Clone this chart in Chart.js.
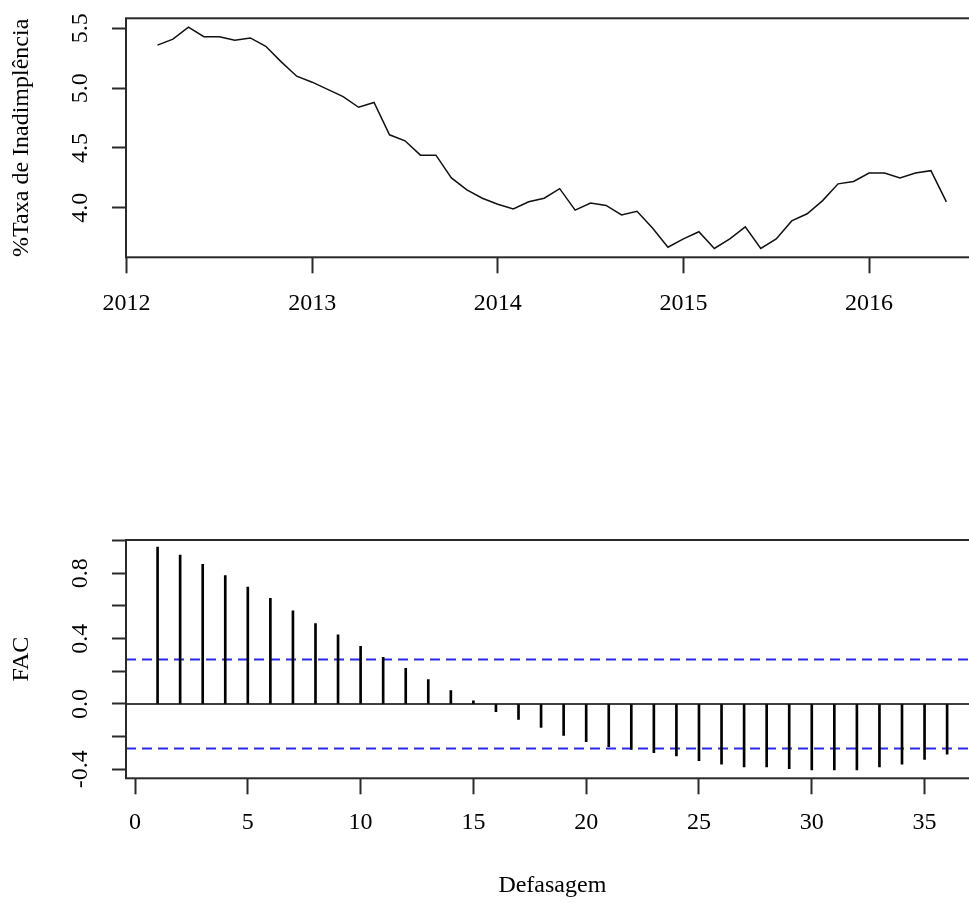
<!DOCTYPE html>
<html>
<head>
<meta charset="utf-8">
<script src="https://cdn.jsdelivr.net/npm/chart.js@4.4.1/dist/chart.umd.min.js"></script>
<style>
  html, body { margin: 0; padding: 0; background: #fff; overflow: hidden; width: 969px; height: 903px; }
  canvas { position: absolute; left: 0; top: 0; }
</style>
</head>
<body>
<canvas id="serie" width="990" height="903"></canvas>
<canvas id="fac" width="990" height="903"></canvas>
<script>
// Série mensal da taxa de inadimplência (%), mar/2012 a jun/2016
const meses = [
  '2012-03','2012-04','2012-05','2012-06','2012-07','2012-08','2012-09','2012-10','2012-11','2012-12',
  '2013-01','2013-02','2013-03','2013-04','2013-05','2013-06','2013-07','2013-08','2013-09','2013-10','2013-11','2013-12',
  '2014-01','2014-02','2014-03','2014-04','2014-05','2014-06','2014-07','2014-08','2014-09','2014-10','2014-11','2014-12',
  '2015-01','2015-02','2015-03','2015-04','2015-05','2015-06','2015-07','2015-08','2015-09','2015-10','2015-11','2015-12',
  '2016-01','2016-02','2016-03','2016-04','2016-05','2016-06'
];
const taxa = [
  5.36, 5.41, 5.51, 5.43, 5.43, 5.40, 5.42, 5.35, 5.22, 5.10,
  5.05, 4.99, 4.93, 4.84, 4.88, 4.61, 4.56, 4.44, 4.44, 4.25, 4.15, 4.08,
  4.03, 3.99, 4.05, 4.08, 4.16, 3.98, 4.04, 4.02, 3.94, 3.97, 3.83, 3.67,
  3.74, 3.80, 3.66, 3.74, 3.84, 3.66, 3.74, 3.89, 3.95, 4.06, 4.20, 4.22,
  4.29, 4.29, 4.25, 4.29, 4.31, 4.05
];
const anos = [2012, 2013, 2014, 2015, 2016];
const ticksTaxa = [4.0, 4.5, 5.0, 5.5];

// Função de autocorrelação (FAC) por defasagem
const defasagens = [1,2,3,4,5,6,7,8,9,10,11,12,13,14,15,16,17,18,19,20,21,22,23,24,25,26,27,28,29,30,31,32,33,34,35,36];
const fac = [
  0.960, 0.912, 0.855, 0.786, 0.716, 0.647, 0.571, 0.492, 0.423, 0.353, 0.286, 0.219,
  0.149, 0.082, 0.020, -0.047, -0.094, -0.143, -0.192, -0.231, -0.261, -0.278, -0.298, -0.318,
  -0.347, -0.369, -0.386, -0.386, -0.396, -0.404, -0.404, -0.404, -0.386, -0.369, -0.339, -0.308
];
const ticksFac = [-0.4, -0.2, 0.0, 0.2, 0.4, 0.6, 0.8, 1.0];
const rotulosFac = ['-0.4', '', '0.0', '', '0.4', '', '0.8', ''];
const ticksDefasagem = [0, 5, 10, 15, 20, 25, 30, 35];
const limiteIC = 0.272;

// Limites dos eixos
const xSerie = { min: 2011.997, max: 2016.587 };
const ySerie = { min: 3.586, max: 5.584 };
const xFac = { min: -0.4, max: 37.4 };
const yFac = { min: -0.455, max: 1.004 };

const anoDecimal = m => { const [a, mm] = m.split('-').map(Number); return a + (mm - 1) / 12; };

Chart.defaults.font.family = "'Liberation Serif', 'Times New Roman', serif";
Chart.defaults.font.size = 24;
Chart.defaults.color = '#000';

// Moldura em volta da área de plotagem
const moldura = {
  id: 'moldura',
  afterDraw(chart) {
    const { ctx, chartArea: a } = chart;
    ctx.save();
    ctx.strokeStyle = '#2a2a2a';
    ctx.lineWidth = 2;
    ctx.strokeRect(a.left, a.top, a.right - a.left, a.bottom - a.top);
    ctx.restore();
  }
};

const gradeEixo = (len) => ({
  drawOnChartArea: false, drawTicks: true, offset: false,
  tickLength: len, tickColor: '#2a2a2a', tickWidth: 2
});

// Tamanho fixo dos eixos, sem folga extra para os rótulos
const fixaAltura = h => s => { s.height = h; s.paddingLeft = 0; s.paddingRight = 0; };
const fixaLargura = w => s => { s.width = w; s.paddingTop = 0; s.paddingBottom = 0; };

new Chart(document.getElementById('serie'), {
  type: 'line',
  data: {
    datasets: [{
      data: meses.map((m, i) => ({ x: anoDecimal(m), y: taxa[i] })),
      borderColor: '#111', borderWidth: 1.5, pointRadius: 0, tension: 0, fill: false
    }]
  },
  options: {
    responsive: false, animation: false, devicePixelRatio: 1,
    layout: { padding: { left: 0, top: 18.3, right: 12, bottom: 566 } },
    plugins: { legend: { display: false }, tooltip: { enabled: false } },
    scales: {
      x: {
        type: 'linear', min: xSerie.min, max: xSerie.max,
        afterBuildTicks: s => { s.ticks = anos.map(v => ({ value: v })); },
        afterFit: fixaAltura(79.7),
        grid: gradeEixo(16), border: { display: false },
        ticks: { padding: 16, autoSkip: false, maxRotation: 0, callback: v => String(v) }
      },
      y: {
        min: ySerie.min, max: ySerie.max,
        afterBuildTicks: s => { s.ticks = ticksTaxa.map(v => ({ value: v })); },
        afterFit: fixaLargura(126),
        grid: gradeEixo(14), border: { display: false },
        ticks: { minRotation: 90, maxRotation: 90, crossAlign: 'center', padding: 16, autoSkip: false,
                 callback: v => Number(v).toFixed(1) },
        title: { display: true, text: '%Taxa de Inadimplência', padding: { top: 7, bottom: 0 } }
      }
    }
  },
  plugins: [moldura]
});

const linhaHorizontal = (y, cor, largura, traco) => ({
  type: 'line',
  data: [{ x: xFac.min, y }, { x: xFac.max, y }],
  borderColor: cor, borderWidth: largura, borderDash: traco, pointRadius: 0, fill: false
});

new Chart(document.getElementById('fac'), {
  type: 'bar',
  data: {
    datasets: [
      { type: 'bar', data: defasagens.map((d, i) => ({ x: d, y: fac[i] })),
        backgroundColor: '#000', borderWidth: 0, barThickness: 2 },
      linhaHorizontal(0, '#000', 1.5, []),
      linhaHorizontal(limiteIC, '#2b2bf0', 2, [10, 6]),
      linhaHorizontal(-limiteIC, '#2b2bf0', 2, [10, 6])
    ]
  },
  options: {
    responsive: false, animation: false, devicePixelRatio: 1,
    layout: { padding: { left: 0, top: 540, right: 11.3, bottom: 2.7 } },
    plugins: { legend: { display: false }, tooltip: { enabled: false } },
    scales: {
      x: {
        type: 'linear', min: xFac.min, max: xFac.max, offset: false,
        afterBuildTicks: s => { s.ticks = ticksDefasagem.map(v => ({ value: v })); },
        afterFit: fixaAltura(122),
        grid: gradeEixo(16), border: { display: false },
        ticks: { padding: 14, autoSkip: false, maxRotation: 0, callback: v => String(v) },
        title: { display: true, text: 'Defasagem', padding: { top: 0, bottom: 0 } }
      },
      y: {
        min: yFac.min, max: yFac.max,
        afterBuildTicks: s => { s.ticks = ticksFac.map(v => ({ value: v })); },
        afterFit: fixaLargura(126),
        grid: gradeEixo(14), border: { display: false },
        ticks: { minRotation: 90, maxRotation: 90, crossAlign: 'center', padding: 12.5, autoSkip: false,
                 callback: (v, i) => rotulosFac[i] },
        title: { display: true, text: 'FAC', padding: { top: 7, bottom: 0 } }
      }
    }
  },
  plugins: [moldura]
});
</script>
</body>
</html>
